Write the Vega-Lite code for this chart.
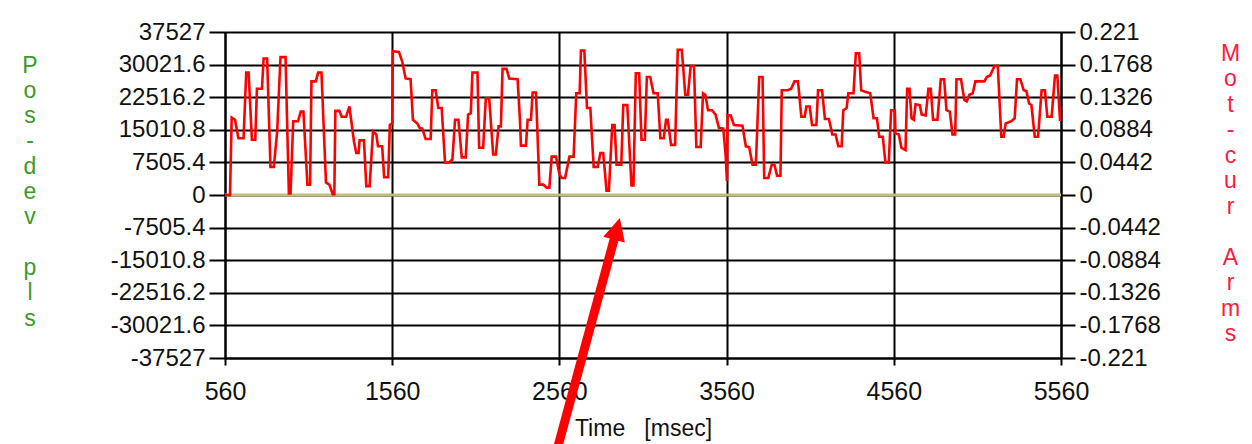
{
"$schema": "https://vega.github.io/schema/vega-lite/v6.json",
"width": 836, "height": 326,
"autosize": {"type": "none"},
"padding": {"left": 225, "top": 32, "right": 191, "bottom": 86},
"background": "white",
"config": {"view": {"stroke": null}, "font": "Liberation Sans"},
"datasets": {
"posdev": [{"t": 560, "pos": 0}, {"t": 5560, "pos": 0}],
"arrow": [{"t": 2549, "pos": -58240}, {"t": 2898, "pos": -8702}],
"arrowhead": [{"t": 2904, "pos": -7804}],
"motcur": [
{"t":560,"cur":0},{"t":590,"cur":0},{"t":600,"cur":0.105},{"t":620,"cur":0.102},{"t":640,"cur":0.077},{"t":671,"cur":0.077},{"t":687,"cur":0.166},{"t":701,"cur":0.166},{"t":721,"cur":0.075},{"t":741,"cur":0.075},{"t":751,"cur":0.144},{"t":781,"cur":0.144},{"t":791,"cur":0.185},{"t":812,"cur":0.185},{"t":832,"cur":0.038},{"t":852,"cur":0.038},{"t":872,"cur":0.086},{"t":892,"cur":0.187},{"t":922,"cur":0.187},{"t":942,"cur":0.002},{"t":952,"cur":0.002},{"t":968,"cur":0.100},{"t":997,"cur":0.100},{"t":1013,"cur":0.113},{"t":1029,"cur":0.113},{"t":1053,"cur":0.014},{"t":1069,"cur":0.014},{"t":1077,"cur":0.154},{"t":1103,"cur":0.154},{"t":1117,"cur":0.166},{"t":1137,"cur":0.166},{"t":1164,"cur":0.017},{"t":1184,"cur":0.014},{"t":1204,"cur":0.001},{"t":1214,"cur":0.001},{"t":1220,"cur":0.114},{"t":1244,"cur":0.114},{"t":1258,"cur":0.106},{"t":1284,"cur":0.106},{"t":1304,"cur":0.120},{"t":1331,"cur":0.073},{"t":1345,"cur":0.057},{"t":1359,"cur":0.057},{"t":1365,"cur":0.074},{"t":1391,"cur":0.074},{"t":1405,"cur":0.012},{"t":1425,"cur":0.012},{"t":1445,"cur":0.086},{"t":1465,"cur":0.082},{"t":1475,"cur":0.066},{"t":1500,"cur":0.066},{"t":1512,"cur":0.024},{"t":1536,"cur":0.024},{"t":1546,"cur":0.095},{"t":1560,"cur":0.097},
{"t":1564,"cur":0.195},{"t":1600,"cur":0.194},{"t":1620,"cur":0.181},{"t":1640,"cur":0.158},{"t":1670,"cur":0.157},{"t":1684,"cur":0.102},{"t":1710,"cur":0.097},{"t":1724,"cur":0.091},{"t":1740,"cur":0.090},{"t":1760,"cur":0.076},{"t":1790,"cur":0.076},{"t":1800,"cur":0.142},{"t":1820,"cur":0.142},{"t":1836,"cur":0.118},{"t":1856,"cur":0.118},{"t":1876,"cur":0.044},{"t":1900,"cur":0.044},{"t":1920,"cur":0.048},{"t":1936,"cur":0.102},{"t":1956,"cur":0.102},{"t":1976,"cur":0.051},{"t":2000,"cur":0.051},{"t":2014,"cur":0.109},{"t":2030,"cur":0.111},{"t":2040,"cur":0.166},{"t":2070,"cur":0.166},{"t":2080,"cur":0.064},{"t":2104,"cur":0.064},{"t":2120,"cur":0.131},{"t":2140,"cur":0.131},{"t":2164,"cur":0.055},{"t":2180,"cur":0.055},{"t":2196,"cur":0.093},{"t":2210,"cur":0.093},{"t":2220,"cur":0.171},{"t":2244,"cur":0.171},{"t":2260,"cur":0.158},{"t":2310,"cur":0.157},{"t":2324,"cur":0.102},{"t":2330,"cur":0.067},{"t":2360,"cur":0.067},{"t":2370,"cur":0.102},{"t":2390,"cur":0.102},{"t":2400,"cur":0.139},{"t":2420,"cur":0.139},{"t":2440,"cur":0.014},{"t":2464,"cur":0.014},{"t":2484,"cur":0.010},{"t":2500,"cur":0.010},{"t":2514,"cur":0.052},{"t":2540,"cur":0.052},{"t":2560,"cur":0.028},
{"t":2574,"cur":0.023},{"t":2594,"cur":0.023},{"t":2620,"cur":0.052},{"t":2645,"cur":0.052},{"t":2661,"cur":0.138},{"t":2681,"cur":0.138},{"t":2689,"cur":0.196},{"t":2709,"cur":0.196},{"t":2725,"cur":0.118},{"t":2745,"cur":0.118},{"t":2765,"cur":0.038},{"t":2789,"cur":0.038},{"t":2805,"cur":0.057},{"t":2822,"cur":0.057},{"t":2842,"cur":0.006},{"t":2856,"cur":0.006},{"t":2876,"cur":0.095},{"t":2890,"cur":0.095},{"t":2902,"cur":0.041},{"t":2930,"cur":0.041},{"t":2942,"cur":0.122},{"t":2966,"cur":0.122},{"t":2991,"cur":0.013},{"t":3003,"cur":0.013},{"t":3017,"cur":0.165},{"t":3037,"cur":0.165},{"t":3051,"cur":0.075},{"t":3071,"cur":0.075},{"t":3083,"cur":0.160},{"t":3103,"cur":0.160},{"t":3123,"cur":0.138},{"t":3148,"cur":0.138},{"t":3164,"cur":0.077},{"t":3184,"cur":0.077},{"t":3198,"cur":0.102},{"t":3208,"cur":0.102},{"t":3228,"cur":0.068},{"t":3252,"cur":0.068},{"t":3268,"cur":0.197},{"t":3292,"cur":0.197},{"t":3313,"cur":0.136},{"t":3329,"cur":0.136},{"t":3345,"cur":0.175},{"t":3365,"cur":0.175},{"t":3379,"cur":0.065},{"t":3405,"cur":0.065},{"t":3419,"cur":0.138},{"t":3433,"cur":0.136},{"t":3449,"cur":0.115},{"t":3473,"cur":0.115},{"t":3494,"cur":0.109},{"t":3514,"cur":0.091},{"t":3540,"cur":0.090},{"t":3554,"cur":0.055},{"t":3562,"cur":0.019},
{"t":3566,"cur":0.108},{"t":3584,"cur":0.108},{"t":3604,"cur":0.095},{"t":3655,"cur":0.094},{"t":3675,"cur":0.066},{"t":3695,"cur":0.065},{"t":3715,"cur":0.041},{"t":3735,"cur":0.041},{"t":3755,"cur":0.160},{"t":3775,"cur":0.160},{"t":3785,"cur":0.023},{"t":3809,"cur":0.023},{"t":3830,"cur":0.041},{"t":3846,"cur":0.041},{"t":3862,"cur":0.026},{"t":3882,"cur":0.026},{"t":3890,"cur":0.142},{"t":3926,"cur":0.142},{"t":3946,"cur":0.144},{"t":3966,"cur":0.154},{"t":3987,"cur":0.154},{"t":4007,"cur":0.106},{"t":4027,"cur":0.106},{"t":4037,"cur":0.120},{"t":4057,"cur":0.120},{"t":4071,"cur":0.095},{"t":4097,"cur":0.095},{"t":4107,"cur":0.142},{"t":4131,"cur":0.142},{"t":4148,"cur":0.103},{"t":4172,"cur":0.103},{"t":4192,"cur":0.082},{"t":4212,"cur":0.082},{"t":4228,"cur":0.066},{"t":4248,"cur":0.066},{"t":4258,"cur":0.115},{"t":4278,"cur":0.118},{"t":4288,"cur":0.138},{"t":4319,"cur":0.138},{"t":4333,"cur":0.192},{"t":4353,"cur":0.192},{"t":4365,"cur":0.142},{"t":4389,"cur":0.140},{"t":4419,"cur":0.138},{"t":4439,"cur":0.104},{"t":4459,"cur":0.104},{"t":4473,"cur":0.079},{"t":4494,"cur":0.079},{"t":4510,"cur":0.044},{"t":4530,"cur":0.044},{"t":4544,"cur":0.115},{"t":4566,"cur":0.115},
{"t":4570,"cur":0.084},{"t":4590,"cur":0.082},{"t":4606,"cur":0.064},{"t":4630,"cur":0.061},{"t":4640,"cur":0.144},{"t":4654,"cur":0.144},{"t":4666,"cur":0.104},{"t":4680,"cur":0.102},{"t":4690,"cur":0.123},{"t":4715,"cur":0.122},{"t":4727,"cur":0.109},{"t":4751,"cur":0.108},{"t":4767,"cur":0.144},{"t":4781,"cur":0.144},{"t":4795,"cur":0.102},{"t":4821,"cur":0.102},{"t":4841,"cur":0.157},{"t":4861,"cur":0.157},{"t":4875,"cur":0.115},{"t":4895,"cur":0.113},{"t":4911,"cur":0.082},{"t":4927,"cur":0.082},{"t":4935,"cur":0.157},{"t":4962,"cur":0.157},{"t":4982,"cur":0.129},{"t":4996,"cur":0.127},{"t":5012,"cur":0.136},{"t":5032,"cur":0.138},{"t":5048,"cur":0.154},{"t":5102,"cur":0.154},{"t":5116,"cur":0.160},{"t":5136,"cur":0.162},{"t":5162,"cur":0.175},{"t":5182,"cur":0.175},{"t":5203,"cur":0.079},{"t":5217,"cur":0.079},{"t":5229,"cur":0.097},{"t":5263,"cur":0.100},{"t":5283,"cur":0.104},{"t":5297,"cur":0.157},{"t":5317,"cur":0.157},{"t":5337,"cur":0.142},{"t":5353,"cur":0.141},{"t":5369,"cur":0.124},{"t":5383,"cur":0.122},{"t":5403,"cur":0.079},{"t":5423,"cur":0.079},{"t":5444,"cur":0.142},{"t":5464,"cur":0.142},{"t":5478,"cur":0.106},{"t":5504,"cur":0.106},{"t":5524,"cur":0.162},{"t":5538,"cur":0.162},{"t":5554,"cur":0.102},{"t":5560,"cur":0.102}
]
},
"encoding": {
"x": {"field": "t", "type": "quantitative",
 "scale": {"domain": [560, 5560], "nice": false, "zero": false},
 "axis": {"values": [560, 1560, 2560, 3560, 4560, 5560], "labelExpr": "toString(datum.value)",
  "title": "Time\u00a0\u00a0\u00a0[msec]", "grid": true, "gridColor": "#000", "gridWidth": 2, "gridOpacity": 1,
  "domainColor": "#000", "domainWidth": 2, "tickColor": "#000", "tickWidth": 2, "tickSize": 7,
  "labelPadding": 14, "labelFont": "Liberation Sans", "labelFontSize": 25, "labelColor": "#111",
  "labelFlush": false, "labelOverlap": false,
  "titleFont": "Liberation Sans", "titleFontSize": 23, "titleFontWeight": "normal", "titleColor": "#111",
  "titleBaseline": "alphabetic", "titleY": 77}}
},
"layer": [
{"data": {"name": "posdev"},
 "mark": {"type": "line", "color": "#c2bd7c", "strokeWidth": 3},
 "encoding": {"y": {"field": "pos", "type": "quantitative",
  "scale": {"domain": [-37527, 37527], "nice": false, "zero": false},
  "axis": {"orient": "left", "values": [-37527, -30021.6, -22516.2, -15010.8, -7505.4, 0, 7505.4, 15010.8, 22516.2, 30021.6, 37527],
   "labelExpr": "toString(datum.value)", "grid": true, "gridColor": "#000", "gridWidth": 2, "gridOpacity": 1,
   "domainColor": "#000", "domainWidth": 2, "tickColor": "#000", "tickWidth": 2, "tickSize": 16,
   "labelPadding": 4, "labelFont": "Liberation Sans", "labelFontSize": 24, "labelColor": "#111",
   "labelFlush": false, "labelOverlap": false,
   "title": ["P", "o", "s", "-", "d", "e", "v", "\u200b", "p", "l", "s"],
   "titleAngle": 0, "titleAlign": "center", "titleBaseline": "alphabetic", "titleX": -195.5, "titleY": 40,
   "titleLineHeight": 25.3, "titleFont": "Liberation Sans", "titleFontSize": 23, "titleFontWeight": "normal", "titleColor": "#3a9a2a"}}}},
{"data": {"name": "motcur"},
 "mark": {"type": "line", "color": "#ff0000", "strokeWidth": 2.6},
 "encoding": {"y": {"field": "cur", "type": "quantitative",
  "scale": {"domain": [-0.221, 0.221], "nice": false, "zero": false},
  "axis": {"orient": "right", "values": [-0.221, -0.1768, -0.1326, -0.0884, -0.0442, 0, 0.0442, 0.0884, 0.1326, 0.1768, 0.221],
   "labelExpr": "toString(datum.value)", "grid": false,
   "domainColor": "#000", "domainWidth": 2, "tickColor": "#000", "tickWidth": 2, "tickSize": 14,
   "labelPadding": 4, "labelFont": "Liberation Sans", "labelFontSize": 24, "labelColor": "#111",
   "labelFlush": false, "labelOverlap": false,
   "title": ["M", "o", "t", "-", "c", "u", "r", "\u200b", "A", "r", "m", "s"],
   "titleAngle": 0, "titleAlign": "center", "titleBaseline": "alphabetic", "titleX": 169, "titleY": 28,
   "titleLineHeight": 25.5, "titleFont": "Liberation Sans", "titleFontSize": 23, "titleFontWeight": "normal", "titleColor": "#ff1a40"}}}},
{"data": {"name": "arrow"},
 "mark": {"type": "line", "color": "#ff0000", "strokeWidth": 9, "strokeCap": "butt"},
 "encoding": {"y": {"field": "pos", "type": "quantitative",
  "scale": {"domain": [-37527, 37527], "nice": false, "zero": false}, "axis": null}}},
{"data": {"name": "arrowhead"},
 "mark": {"type": "point", "shape": "M0,-1L-1,1L1,1Z", "filled": true, "color": "#ff0000", "opacity": 1, "size": 500, "angle": 15, "strokeWidth": 0},
 "encoding": {"y": {"field": "pos", "type": "quantitative",
  "scale": {"domain": [-37527, 37527], "nice": false, "zero": false}, "axis": null}}}
],
"resolve": {"scale": {"y": "independent"}, "axis": {"y": "independent"}}
}
